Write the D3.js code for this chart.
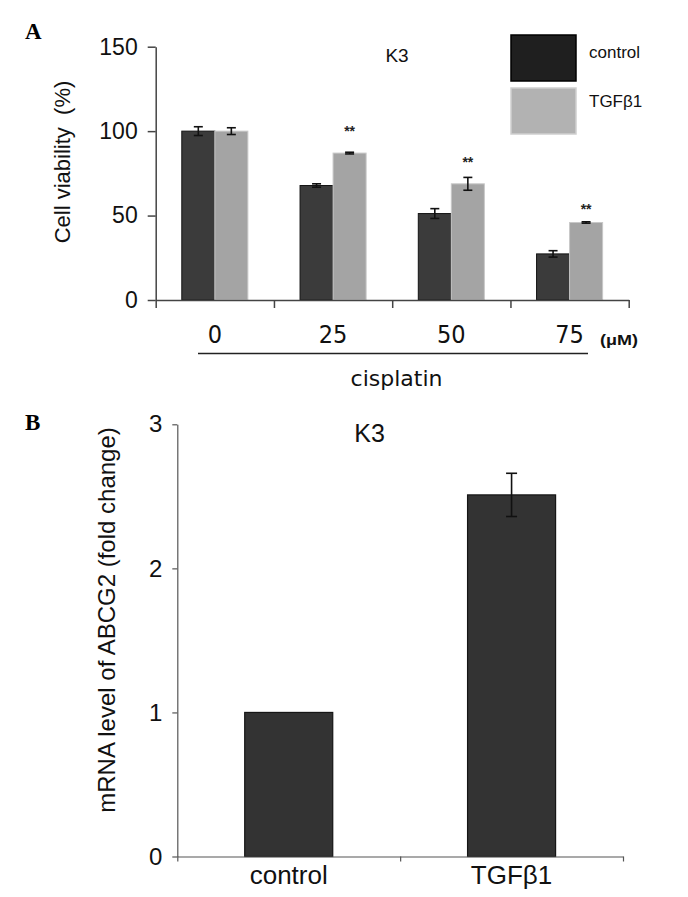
<!DOCTYPE html>
<html lang="en">
<head>
    <meta charset="UTF-8">
    <title>K3 cisplatin / ABCG2</title>
    <script src="https://d3js.org/d3.v7.min.js"></script>
    <style>
        body { margin: 0; background: #fff; }
        svg { display: block; font-family: "Liberation Sans", Arial, sans-serif; }
    </style>
</head>
<body>
    <svg id="chart" width="688" height="897"></svg>
    <script>
        // Panel A data: cell viability vs cisplatin dose
        var doses = ["0", "25", "50", "75"];
        var groups = ["control", "TGFβ1"];
        var controlViab = [100, 67.8, 51.2, 27.3];
        var controlErr = [2.6, 1.0, 2.9, 1.9];
        var tgfViab = [100, 87.0, 68.8, 45.9];
        var tgfErr = [2.0, 0.5, 3.8, 0.4];
        var starAt = [null, 102, 83.5, 55.5];   // where the ** marks sit (in % units)
        var yTicksA = [0, 50, 100, 150];

        // Panel B data: ABCG2 mRNA fold change
        var bCategories = ["control", "TGFβ1"];
        var bValues = [1, 2.51];
        var bErr = [0, 0.15];
        var yTicksB = [0, 1, 2, 3];

        var svg = d3.select("#chart");

        // ---------------- Panel A ----------------
        var xA = d3.scaleBand().domain(doses).range([155.7, 628.7]).padding(0);
        var xInner = d3.scaleBand().domain(groups).range([0, xA.bandwidth()]).paddingInner(0).paddingOuter(0.79);
        var yA = d3.scaleLinear().domain([0, 150]).range([300, 46.7]);
        var fillA = { "control": "#3b3b3b", "TGFβ1": "#a4a4a4" };
        var strokeA = { "control": "#151515", "TGFβ1": "#c8c8c8" };

        var rowsA = doses.map(function(d, i) {
            return [
                { dose: d, group: "control", v: controlViab[i], e: controlErr[i] },
                { dose: d, group: "TGFβ1", v: tgfViab[i], e: tgfErr[i] }
            ];
        });
        var flatA = [].concat.apply([], rowsA);

        var gA = svg.append("g");

        gA.selectAll("rect.bar")
            .data(flatA)
            .enter().append("rect")
            .attr("class", "bar")
            .attr("x", function(d) { return xA(d.dose) + xInner(d.group); })
            .attr("y", function(d) { return yA(d.v); })
            .attr("width", xInner.bandwidth())
            .attr("height", function(d) { return yA(0) - yA(d.v); })
            .attr("fill", function(d) { return fillA[d.group]; })
            .attr("stroke", function(d) { return strokeA[d.group]; })
            .attr("stroke-width", 1);

        // error bars
        var errA = gA.selectAll("g.err")
            .data(flatA)
            .enter().append("g")
            .attr("class", "err")
            .attr("stroke", "#111")
            .attr("stroke-width", 1.6);
        errA.each(function(d) {
            var cx = xA(d.dose) + xInner(d.group) + xInner.bandwidth() / 2;
            var g = d3.select(this);
            g.append("line").attr("x1", cx).attr("x2", cx).attr("y1", yA(d.v + d.e)).attr("y2", yA(d.v - d.e));
            g.append("line").attr("x1", cx - 4.5).attr("x2", cx + 4.5).attr("y1", yA(d.v + d.e)).attr("y2", yA(d.v + d.e));
            g.append("line").attr("x1", cx - 4.5).attr("x2", cx + 4.5).attr("y1", yA(d.v - d.e)).attr("y2", yA(d.v - d.e));
        });

        // significance stars
        gA.selectAll("text.star")
            .data(doses.filter(function(d, i) { return starAt[i] !== null; }))
            .enter().append("text")
            .attr("class", "star")
            .attr("x", function(d) { return xA(d) + xInner("TGFβ1") + xInner.bandwidth() / 2; })
            .attr("y", function(d) { return yA(starAt[doses.indexOf(d)]) + 8; })
            .attr("text-anchor", "middle")
            .attr("font-size", 14)
            .attr("font-weight", "bold")
            .attr("fill", "#222")
            .text("**");

        // y axis
        var yAxisA = gA.append("g")
            .attr("transform", "translate(155.7,0)")
            .call(d3.axisLeft(yA).tickValues(yTicksA).tickSize(8).tickSizeOuter(0).tickPadding(10));
        yAxisA.selectAll("path, line").attr("stroke", "#444").attr("stroke-width", 1.5);
        yAxisA.selectAll("text")
            .attr("font-size", 23)
            .attr("font-family", "'Liberation Sans', Arial, sans-serif")
            .attr("fill", "#111");

        // x axis: ticks at the band edges, labels at the band centres
        var xEdges = d3.scaleLinear().domain([0, doses.length]).range(xA.range());
        var xAxisA = gA.append("g")
            .attr("transform", "translate(0,300)")
            .call(d3.axisBottom(xEdges).tickValues(d3.range(doses.length + 1)).tickSize(8).tickSizeOuter(0).tickFormat(""));
        xAxisA.selectAll("path, line").attr("stroke", "#444").attr("stroke-width", 1.5);

        gA.selectAll("text.dose")
            .data(doses)
            .enter().append("text")
            .attr("class", "dose")
            .attr("x", function(d) { return xA(d) + xA.bandwidth() / 2; })
            .attr("y", 343)
            .attr("text-anchor", "middle")
            .attr("font-family", "'Liberation Sans Narrow', 'DejaVu Sans Condensed', sans-serif")
            .attr("font-size", 25)
            .attr("fill", "#111")
            .text(function(d) { return d; });

        gA.append("text")
            .attr("x", 600).attr("y", 345)
            .attr("font-size", 14).attr("font-weight", "bold")
            .attr("textLength", 38).attr("lengthAdjust", "spacingAndGlyphs")
            .attr("fill", "#111")
            .text("(μM)");

        gA.append("line")
            .attr("x1", 198).attr("x2", 588).attr("y1", 353.5).attr("y2", 353.5)
            .attr("stroke", "#222").attr("stroke-width", 1.5);

        gA.append("text")
            .attr("x", 396.5).attr("y", 386)
            .attr("text-anchor", "middle")
            .attr("font-family", "'DejaVu Sans', sans-serif")
            .attr("font-size", 22)
            .attr("fill", "#111")
            .text("cisplatin");

        gA.append("text")
            .attr("transform", "translate(70,162) rotate(-90)")
            .attr("text-anchor", "middle")
            .attr("font-size", 22)
            .attr("fill", "#111")
            .attr("xml:space", "preserve")
            .text("Cell viability  (%)");

        gA.append("text")
            .attr("x", 397).attr("y", 62)
            .attr("text-anchor", "middle")
            .attr("font-size", 19)
            .attr("fill", "#111")
            .text("K3");

        // legend
        var legend = gA.selectAll("g.legend")
            .data(groups)
            .enter().append("g")
            .attr("class", "legend")
            .attr("transform", function(d, i) { return "translate(511," + (35 + i * 53) + ")"; });
        legend.append("rect")
            .attr("width", 65).attr("height", 46)
            .attr("fill", function(d) { return d === "control" ? "#1f1f1f" : "#b2b2b2"; })
            .attr("stroke", function(d) { return d === "control" ? "#000" : "#cfcfcf"; })
            .attr("stroke-width", 1.5);
        legend.append("text")
            .attr("x", 78).attr("y", function(d, i) { return i === 0 ? 23 : 19; })
            .attr("font-size", 17)
            .attr("fill", "#111")
            .text(function(d) { return d; });

        gA.append("text")
            .attr("x", 25).attr("y", 39)
            .attr("font-family", "'Liberation Serif', 'Times New Roman', serif")
            .attr("font-weight", "bold")
            .attr("font-size", 23)
            .text("A");

        // ---------------- Panel B ----------------
        var xB = d3.scaleBand().domain(bCategories).range([177.3, 623]).padding(0);
        var yB = d3.scaleLinear().domain([0, 3]).range([856.5, 424.3]);
        var barWB = xB.bandwidth() * 0.395;

        var gB = svg.append("g");

        gB.selectAll("rect.barB")
            .data(bCategories)
            .enter().append("rect")
            .attr("class", "barB")
            .attr("x", function(d) { return xB(d) + (xB.bandwidth() - barWB) / 2; })
            .attr("y", function(d, i) { return yB(bValues[i]); })
            .attr("width", barWB)
            .attr("height", function(d, i) { return yB(0) - yB(bValues[i]); })
            .attr("fill", "#333333")
            .attr("stroke", "#161616")
            .attr("stroke-width", 1.2);

        var errB = gB.selectAll("g.errB")
            .data(bCategories.filter(function(d, i) { return bErr[i] > 0; }))
            .enter().append("g")
            .attr("class", "errB")
            .attr("stroke", "#111")
            .attr("stroke-width", 1.6);
        errB.each(function(d) {
            var i = bCategories.indexOf(d);
            var cx = xB(d) + xB.bandwidth() / 2;
            var g = d3.select(this);
            var hi = yB(bValues[i] + bErr[i]), lo = yB(bValues[i] - bErr[i]);
            g.append("line").attr("x1", cx).attr("x2", cx).attr("y1", hi).attr("y2", lo);
            g.append("line").attr("x1", cx - 5.5).attr("x2", cx + 5.5).attr("y1", hi).attr("y2", hi);
            g.append("line").attr("x1", cx - 5.5).attr("x2", cx + 5.5).attr("y1", lo).attr("y2", lo);
        });

        var yAxisB = gB.append("g")
            .attr("transform", "translate(177.3,0)")
            .call(d3.axisLeft(yB).tickValues(yTicksB).tickFormat(d3.format("d")).tickSize(5).tickSizeOuter(0).tickPadding(10));
        yAxisB.selectAll("path, line").attr("stroke", "#555").attr("stroke-width", 1.2);
        yAxisB.selectAll("text")
            .attr("font-size", 24)
            .attr("font-family", "'Liberation Sans', Arial, sans-serif")
            .attr("fill", "#111");

        var xEdgesB = d3.scaleLinear().domain([0, bCategories.length]).range(xB.range());
        var xAxisB = gB.append("g")
            .attr("transform", "translate(0,856.5)")
            .call(d3.axisBottom(xEdgesB).tickValues(d3.range(bCategories.length + 1)).tickSize(5).tickSizeOuter(0).tickFormat(""));
        xAxisB.selectAll("path, line").attr("stroke", "#555").attr("stroke-width", 1.2);

        gB.selectAll("text.catB")
            .data(bCategories)
            .enter().append("text")
            .attr("class", "catB")
            .attr("x", function(d) { return xB(d) + xB.bandwidth() / 2; })
            .attr("y", 884)
            .attr("text-anchor", "middle")
            .attr("font-size", 26)
            .attr("fill", "#111")
            .text(function(d) { return d; });

        gB.append("text")
            .attr("transform", "translate(115,620) rotate(-90)")
            .attr("text-anchor", "middle")
            .attr("font-size", 24)
            .attr("fill", "#111")
            .text("mRNA level of ABCG2 (fold change)");

        gB.append("text")
            .attr("x", 369.5).attr("y", 442)
            .attr("text-anchor", "middle")
            .attr("font-size", 25)
            .attr("fill", "#111")
            .text("K3");

        gB.append("text")
            .attr("x", 25).attr("y", 430)
            .attr("font-family", "'Liberation Serif', 'Times New Roman', serif")
            .attr("font-weight", "bold")
            .attr("font-size", 23)
            .text("B");
    </script>
</body>
</html>
